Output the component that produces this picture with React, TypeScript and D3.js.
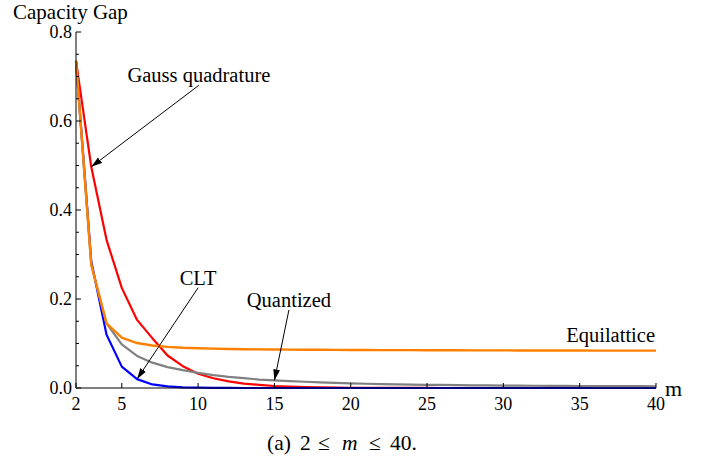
import React from "react";
import * as d3 from "d3";

const mValues = [2, 3, 4, 5, 6, 7, 8, 9, 10, 11, 12, 13, 14, 15, 16, 17, 18, 19, 20, 21, 22, 23, 24, 25, 26, 27, 28, 29, 30, 31, 32, 33, 34, 35, 36, 37, 38, 39, 40];

const gaussValues = [0.735, 0.497, 0.333, 0.225, 0.153, 0.112, 0.073, 0.049, 0.032, 0.022, 0.015, 0.01, 0.007, 0.0045, 0.003, 0.002, 0.0013, 0.0009, 0.0006, 0.0004, 0.0003, 0.0002, 0.0001, 0.0001, 0, 0, 0, 0, 0, 0, 0, 0, 0, 0, 0, 0, 0, 0, 0];
const cltValues = [0.735, 0.285, 0.12, 0.048, 0.02, 0.008, 0.0035, 0.0015, 0.0007, 0.0003, 0.0001, 0, 0, 0, 0, 0, 0, 0, 0, 0, 0, 0, 0, 0, 0, 0, 0, 0, 0, 0, 0, 0, 0, 0, 0, 0, 0, 0, 0];
const quantizedValues = [0.735, 0.277, 0.145, 0.098, 0.072, 0.057, 0.047, 0.04, 0.034, 0.029, 0.025, 0.022, 0.019, 0.017, 0.0155, 0.014, 0.0125, 0.0113, 0.0103, 0.0095, 0.0088, 0.0082, 0.0077, 0.0072, 0.0068, 0.0064, 0.0061, 0.0058, 0.0055, 0.0053, 0.0051, 0.0049, 0.0047, 0.0045, 0.0044, 0.0042, 0.0041, 0.004, 0.0039];
const equilatticeValues = [0.735, 0.277, 0.145, 0.113, 0.101, 0.0955, 0.0925, 0.0905, 0.0893, 0.0884, 0.0877, 0.0872, 0.0868, 0.0865, 0.0862, 0.086, 0.0858, 0.0856, 0.0855, 0.0853, 0.0852, 0.0851, 0.085, 0.0849, 0.0848, 0.0847, 0.0846, 0.0845, 0.0845, 0.0844, 0.0843, 0.0843, 0.0842, 0.0842, 0.0841, 0.0841, 0.084, 0.084, 0.084];

const xTicks = [2, 5, 10, 15, 20, 25, 30, 35, 40];
const yTicks = [0, 0.2, 0.4, 0.6, 0.8];
const yMinorTicks = [0.05, 0.1, 0.15, 0.25, 0.3, 0.35, 0.45, 0.5, 0.55, 0.65, 0.7, 0.75];

const series = [
  { name: "Gauss quadrature", values: gaussValues, color: "#ff0000", width: 2.2 },
  { name: "CLT", values: cltValues, color: "#0000ff", width: 2.2 },
  { name: "Quantized", values: quantizedValues, color: "#808080", width: 2.2 },
  { name: "Equilattice", values: equilatticeValues, color: "#ff8000", width: 2.4 },
];

// annotations: label anchored at (labelM, labelV) in data space, arrow pointing to series value at m
const annotations = [
  { text: "Gauss quadrature", series: 0, m: 3, labelM: 10.05, labelV: 0.687 },
  { text: "CLT", series: 1, m: 6, labelM: 10.0, labelV: 0.232 },
  { text: "Quantized", series: 2, m: 15, labelM: 15.95, labelV: 0.182 },
];

const W = 709;
const H = 459;
const FONT = "'Liberation Serif', 'Times New Roman', serif";

export default function App() {
  const x = d3.scaleLinear().domain([2, 40]).range([76, 656]);
  const y = d3.scaleLinear().domain([0, 0.8]).range([388, 32]);

  const line = d3
    .line<number>()
    .x((_, i) => x(mValues[i]))
    .y((d) => y(d));

  return (
    <svg
      width={W}
      height={H}
      style={{ position: "absolute", left: 0, top: 0, background: "#fff" }}
      fontFamily={FONT}
    >
      <defs>
        <marker
          id="arr"
          markerUnits="userSpaceOnUse"
          markerWidth={12}
          markerHeight={8}
          refX={11}
          refY={4}
          orient="auto"
        >
          <path d="M0,0.6 L11,4 L0,7.4 Z" fill="#000" />
        </marker>
      </defs>

      {/* title */}
      <text x={13} y={19} fontSize={21} fill="#000">
        Capacity Gap
      </text>

      {/* series */}
      {series.map((s) => (
        <path
          key={s.name}
          d={line(s.values) || ""}
          fill="none"
          stroke={s.color}
          strokeWidth={s.width}
          strokeLinejoin="round"
        />
      ))}

      {/* axes */}
      <line x1={x(2)} x2={x(2)} y1={y(0.8)} y2={y(0)} stroke="#000" strokeWidth={1} />
      <line x1={x(2)} x2={x(40)} y1={y(0)} y2={y(0)} stroke="#000" strokeWidth={1} />

      {yTicks.map((t) => (
        <g key={"y" + t}>
          <line x1={x(2)} x2={x(2) + 5} y1={y(t)} y2={y(t)} stroke="#000" strokeWidth={1} />
          <text x={x(2) - 4} y={y(t)} dy="0.36em" textAnchor="end" fontSize={18} fill="#000">
            {t.toFixed(1)}
          </text>
        </g>
      ))}
      {yMinorTicks.map((t) => (
        <line key={"ym" + t} x1={x(2)} x2={x(2) + 3} y1={y(t)} y2={y(t)} stroke="#000" strokeWidth={1} />
      ))}
      {xTicks.map((t) => (
        <g key={"x" + t}>
          <line x1={x(t)} x2={x(t)} y1={y(0)} y2={y(0) - 5} stroke="#000" strokeWidth={1} />
          <text x={x(t)} y={410} textAnchor="middle" fontSize={18} fill="#000">
            {t}
          </text>
        </g>
      ))}
      <text x={665} y={396} fontSize={22} fill="#000">
        m
      </text>

      {/* annotations */}
      {annotations.map((a) => {
        const s = series[a.series];
        const idx = mValues.indexOf(a.m);
        const tx = x(a.labelM);
        const ty = y(a.labelV);
        return (
          <g key={a.text}>
            <text x={tx} y={ty} textAnchor="middle" fontSize={20.5} fill="#000">
              {a.text}
            </text>
            <line
              x1={tx}
              y1={ty + 3}
              x2={x(a.m)}
              y2={y(s.values[idx])}
              stroke="#000"
              strokeWidth={1}
              markerEnd="url(#arr)"
            />
          </g>
        );
      })}
      <text x={x(40) - 1} y={342} textAnchor="end" fontSize={20.5} fill="#000">
        Equilattice
      </text>

      {/* caption */}
      <g fontSize={21.5} fill="#000">
        <text x={267} y={450}>(a)</text>
        <text x={300} y={450}>2</text>
        <text x={318} y={450}>≤</text>
        <text x={342} y={450} fontStyle="italic">m</text>
        <text x={369} y={450}>≤</text>
        <text x={390} y={450}>40.</text>
      </g>
    </svg>
  );
}
